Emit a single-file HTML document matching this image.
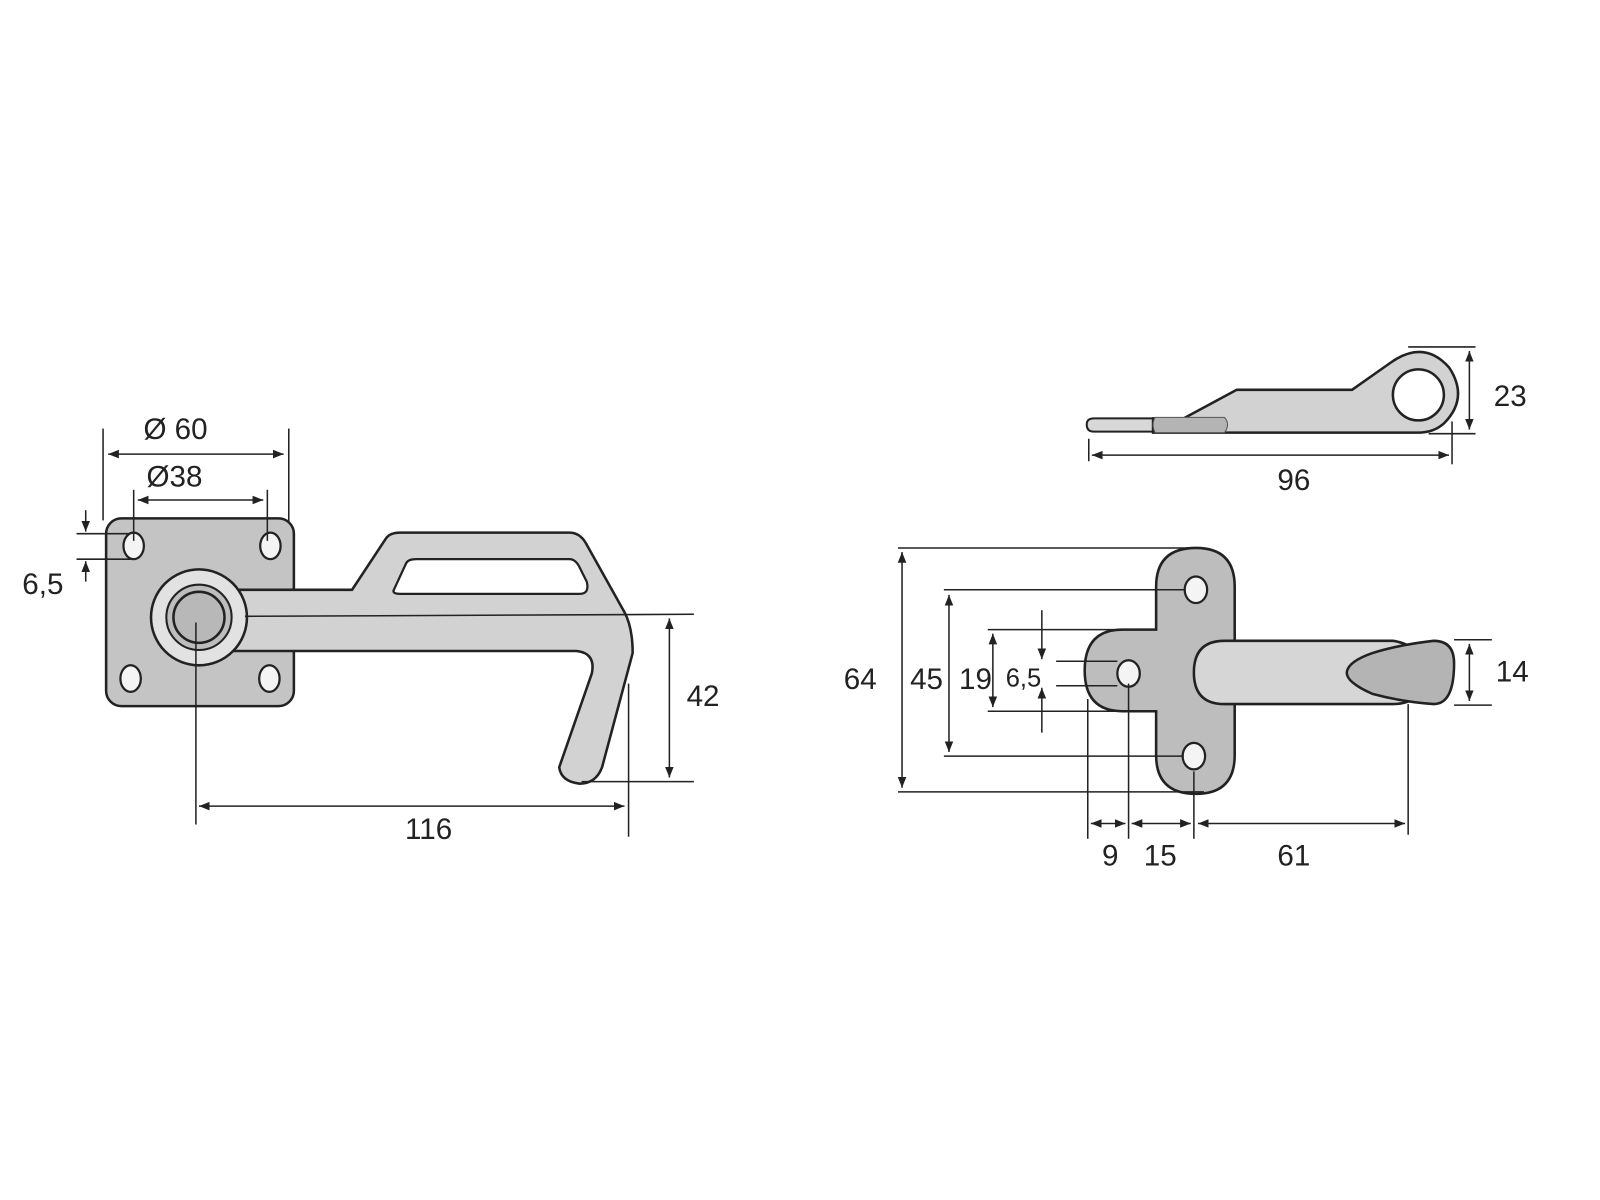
<!DOCTYPE html>
<html><head><meta charset="utf-8"><style>html,body{margin:0;padding:0;background:#fff}svg{display:block}</style></head>
<body>
<svg width="1600" height="1200" viewBox="0 0 1568 1176" xmlns="http://www.w3.org/2000/svg">
<defs>
<marker id="a" viewBox="0 0 10 10" refX="10" refY="5" markerWidth="7" markerHeight="7" orient="auto-start-reverse"><path d="M0,1 L10,5 L0,9 z" fill="#222"/></marker>
</defs>
<g font-family="Liberation Sans, sans-serif" font-size="29" fill="#222" text-anchor="middle">
<!-- LEFT PART -->
<rect x="104" y="508" width="184" height="184" rx="15" fill="#c4c4c4" stroke="#222" stroke-width="2.5"/>
<g fill="#f4f4f4" stroke="#222" stroke-width="2.2">
<ellipse cx="131" cy="535" rx="10" ry="13"/><ellipse cx="265" cy="535" rx="10" ry="13"/>
<ellipse cx="128" cy="665" rx="10" ry="13"/><ellipse cx="264" cy="665" rx="10" ry="13"/>
</g>
<path d="M200,578 L345,578 L378,528 Q382,522 392,522 L558,522 Q568,522 574,532 L612,600 Q620,615 620,640 L590,752 Q584,768 568,768 Q550,766 548,752 L580,660 Q584,640 565,638 L200,638 Z" fill="#d2d2d2" stroke="#222" stroke-width="2.5"/>
<path d="M386,578 L398,552 Q400,548 408,548 L558,548 Q564,548 568,556 L575,570 Q578,582 568,582 L392,582 Q384,582 386,578 Z" fill="#fff" stroke="#222" stroke-width="2.2"/>
<circle cx="195" cy="605" r="47" fill="#e2e2e2" stroke="#222" stroke-width="2.5"/>
<circle cx="195" cy="605" r="32" fill="#bdbdbd" stroke="#222" stroke-width="2"/>
<circle cx="195" cy="605" r="25" fill="#b8b8b8" stroke="#222" stroke-width="2.5"/>
<g stroke="#222" stroke-width="1.5" fill="none">
<line x1="240" y1="604" x2="680" y2="602"/>
<line x1="101" y1="420" x2="101" y2="510"/><line x1="283" y1="420" x2="283" y2="512"/>
<line x1="106" y1="445" x2="278" y2="445" marker-start="url(#a)" marker-end="url(#a)"/>
<line x1="131" y1="480" x2="131" y2="530"/><line x1="262" y1="480" x2="262" y2="530"/>
<line x1="135" y1="490" x2="258" y2="490" marker-start="url(#a)" marker-end="url(#a)"/>
<line x1="75" y1="523" x2="128" y2="523"/><line x1="75" y1="548" x2="128" y2="548"/>
<line x1="84" y1="500" x2="84" y2="521" marker-end="url(#a)"/>
<line x1="84" y1="570" x2="84" y2="550" marker-end="url(#a)"/>
<line x1="570" y1="766" x2="680" y2="766"/>
<line x1="656" y1="606" x2="656" y2="762" marker-start="url(#a)" marker-end="url(#a)"/>
<line x1="192" y1="610" x2="192" y2="808"/><line x1="616" y1="670" x2="616" y2="820"/>
<line x1="195" y1="790" x2="612" y2="790" marker-start="url(#a)" marker-end="url(#a)"/>
</g>
<text x="172" y="430">Ø 60</text>
<text x="171" y="477">Ø38</text>
<text x="42" y="582">6,5</text>
<text x="689" y="692">42</text>
<text x="420" y="822">116</text>

<!-- RIGHT TOP -->
<path d="M1072,410 L1130,410 L1130,423 L1072,423 Q1065,423 1065,416 Q1065,410 1072,410 Z" fill="#d8d8d8" stroke="#222" stroke-width="2"/>
<path d="M1160,410 L1212,382 L1325,382 L1362,356 Q1395,332 1420,360 Q1440,390 1415,415 Q1405,424 1390,424 L1130,424 L1130,410 Z" fill="#d2d2d2" stroke="#222" stroke-width="2.5"/>
<path d="M1132,409 L1200,409 Q1206,416 1200,424 L1132,424 Q1128,416 1132,409 Z" fill="#b4b4b4" stroke="#555" stroke-width="1"/>
<circle cx="1390" cy="387" r="25" fill="#fff" stroke="#222" stroke-width="2.5"/>
<g stroke="#222" stroke-width="1.5" fill="none">
<line x1="1380" y1="340" x2="1446" y2="340"/><line x1="1400" y1="425" x2="1446" y2="425"/>
<line x1="1440" y1="344" x2="1440" y2="421" marker-start="url(#a)" marker-end="url(#a)"/>
<line x1="1067" y1="430" x2="1067" y2="452"/><line x1="1423" y1="413" x2="1423" y2="455"/>
<line x1="1070" y1="446" x2="1420" y2="446" marker-start="url(#a)" marker-end="url(#a)"/>
</g>
<text x="1480" y="398">23</text>
<text x="1268" y="480">96</text>

<!-- RIGHT BOTTOM -->
<path d="M1133,575 Q1133,537 1172,537 Q1210,537 1210,575 L1210,740 Q1210,778 1172,778 Q1133,778 1133,740 L1133,697 L1100,697 Q1063,697 1063,657 Q1063,617 1100,617 L1133,617 Z" fill="#bdbdbd" stroke="#222" stroke-width="2.5"/>
<path d="M1200,628 L1365,628 Q1380,630 1390,640 L1390,682 Q1380,690 1365,690 L1200,690 Q1170,690 1170,659 Q1170,628 1200,628 Z" fill="#d6d6d6" stroke="#222" stroke-width="2.5"/>
<path d="M1345,640 Q1370,632 1405,628 Q1425,628 1425,650 Q1425,690 1405,690 Q1375,688 1345,680 Q1318,668 1320,658 Q1322,648 1345,640 Z" fill="#b4b4b4" stroke="#222" stroke-width="2.5"/>
<g fill="#f4f4f4" stroke="#222" stroke-width="2.2">
<ellipse cx="1172" cy="578" rx="11" ry="13"/><ellipse cx="1106" cy="660" rx="11" ry="13"/><ellipse cx="1170" cy="741" rx="11" ry="13"/>
</g>
<g stroke="#222" stroke-width="1.5" fill="none">
<line x1="880" y1="537" x2="1180" y2="537"/><line x1="880" y1="776" x2="1180" y2="776"/>
<line x1="884" y1="541" x2="884" y2="772" marker-start="url(#a)" marker-end="url(#a)"/>
<line x1="925" y1="578" x2="1162" y2="578"/><line x1="925" y1="741" x2="1160" y2="741"/>
<line x1="930" y1="583" x2="930" y2="737" marker-start="url(#a)" marker-end="url(#a)"/>
<line x1="968" y1="617" x2="1112" y2="617"/><line x1="968" y1="697" x2="1112" y2="697"/>
<line x1="973" y1="621" x2="973" y2="693" marker-start="url(#a)" marker-end="url(#a)"/>
<line x1="1035" y1="648" x2="1095" y2="648"/><line x1="1035" y1="672" x2="1095" y2="672"/>
<line x1="1021" y1="598" x2="1021" y2="646" marker-end="url(#a)"/>
<line x1="1021" y1="718" x2="1021" y2="674" marker-end="url(#a)"/>
<line x1="1425" y1="627" x2="1462" y2="627"/><line x1="1425" y1="691" x2="1462" y2="691"/>
<line x1="1440" y1="631" x2="1440" y2="687" marker-start="url(#a)" marker-end="url(#a)"/>
<line x1="1066" y1="685" x2="1066" y2="822"/><line x1="1106" y1="670" x2="1106" y2="822"/>
<line x1="1170" y1="756" x2="1170" y2="822"/><line x1="1380" y1="690" x2="1380" y2="818"/>
<line x1="1069" y1="807" x2="1103" y2="807" marker-start="url(#a)" marker-end="url(#a)"/>
<line x1="1109" y1="807" x2="1167" y2="807" marker-start="url(#a)" marker-end="url(#a)"/>
<line x1="1174" y1="807" x2="1377" y2="807" marker-start="url(#a)" marker-end="url(#a)"/>
</g>
<text x="843" y="675">64</text>
<text x="908" y="675">45</text>
<text x="956" y="675">19</text>
<text x="1003" y="673" font-size="25">6,5</text>
<text x="1482" y="668">14</text>
<text x="1088" y="848">9</text>
<text x="1137" y="848">15</text>
<text x="1268" y="848">61</text>
</g>
</svg>
</body></html>
